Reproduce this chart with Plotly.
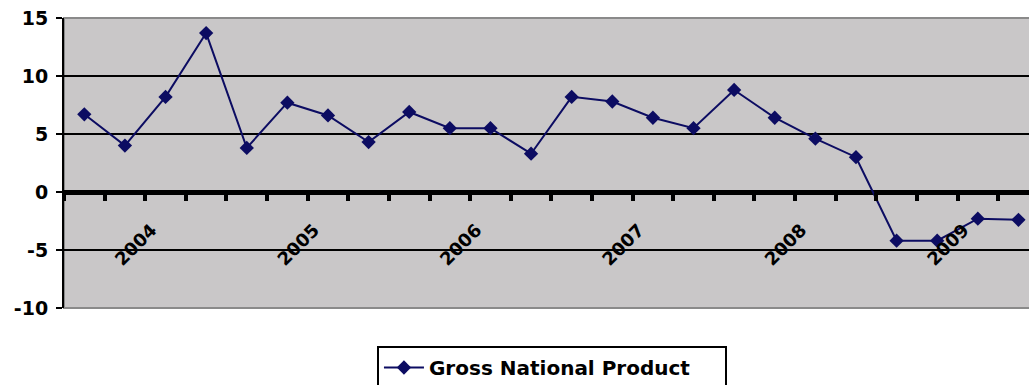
import plotly.graph_objects as go

# Quarterly GNP growth, 2003 Q3 .. 2009 Q2
quarters = [
    "2003 Q3", "2003 Q4",
    "2004 Q1", "2004 Q2", "2004 Q3", "2004 Q4",
    "2005 Q1", "2005 Q2", "2005 Q3", "2005 Q4",
    "2006 Q1", "2006 Q2", "2006 Q3", "2006 Q4",
    "2007 Q1", "2007 Q2", "2007 Q3", "2007 Q4",
    "2008 Q1", "2008 Q2", "2008 Q3", "2008 Q4",
    "2009 Q1", "2009 Q2",
]
gnp = [
    6.7, 4.0,
    8.2, 13.7, 3.8, 7.7,
    6.6, 4.3, 6.9, 5.5,
    5.5, 3.3, 8.2, 7.8,
    6.4, 5.5, 8.8, 6.4,
    4.6, 3.0, -4.2, -4.2,
    -2.3, -2.4,
]
year_labels = ["2004", "2005", "2006", "2007", "2008", "2009"]
y_ticks = [-10, -5, 0, 5, 10, 15]

idx = list(range(len(quarters)))
year_pos = [quarters.index(f"{y} Q1") for y in year_labels]

FONT = "DejaVu Sans, Arial, sans-serif"
NAVY = "#0c0c62"

fig = go.Figure()
fig.add_trace(go.Scatter(
    x=idx, y=gnp, customdata=quarters,
    mode="lines+markers",
    name="Gross National Product",
    line=dict(color=NAVY, width=2),
    marker=dict(symbol="diamond", size=11, color=NAVY),
    hovertemplate="%{customdata}: %{y}<extra></extra>",
))

# Plot-area frame, drawn above the gridlines
fig.add_shape(type="rect", xref="paper", yref="paper", x0=0, x1=1.002, y0=0, y1=1,
              line=dict(color="#8a8a8a", width=2), fillcolor="rgba(0,0,0,0)",
              layer="between")

fig.update_layout(
    width=1029, height=385,
    margin=dict(l=64, r=0, t=18, b=77, autoexpand=False),
    paper_bgcolor="white",
    plot_bgcolor="#c9c7c8",
    font=dict(family=FONT, color="black"),
    showlegend=True,
    legend=dict(
        xref="container", yref="container",
        x=0.5364, y=1 - 346 / 385, xanchor="center", yanchor="top",
        orientation="h",
        bordercolor="black", borderwidth=2, bgcolor="white",
        font=dict(family=FONT, size=20, color="black", weight="bold"),
        itemwidth=40, entrywidth=291,
    ),
    xaxis=dict(
        range=[-0.5, 23.26],
        anchor="free", position=0.4,
        showgrid=False, zeroline=False, showline=False,
        tickmode="array", tickvals=year_pos, ticktext=year_labels,
        tickangle=-45, ticks="", ticklabelstandoff=23, ticklabelshift=-14,
        tickfont=dict(family=FONT, size=18, color="black", weight="bold"),
        minor=dict(tickmode="linear", tick0=-0.5, dtick=1, ticks="outside",
                   ticklen=8, tickwidth=4, tickcolor="black", showgrid=False),
    ),
    yaxis=dict(
        range=[-10, 15],
        tickmode="array", tickvals=y_ticks, ticktext=[str(v) for v in y_ticks],
        showgrid=True, gridcolor="black", gridwidth=1.5,
        zeroline=True, zerolinecolor="black", zerolinewidth=5,
        showline=True, linecolor="black", linewidth=2,
        ticks="outside", ticklen=6, tickwidth=2, tickcolor="black",
        ticklabelstandoff=4,
        tickfont=dict(family=FONT, size=19, color="black", weight="bold"),
    ),
)

fig.write_html("out.html")
